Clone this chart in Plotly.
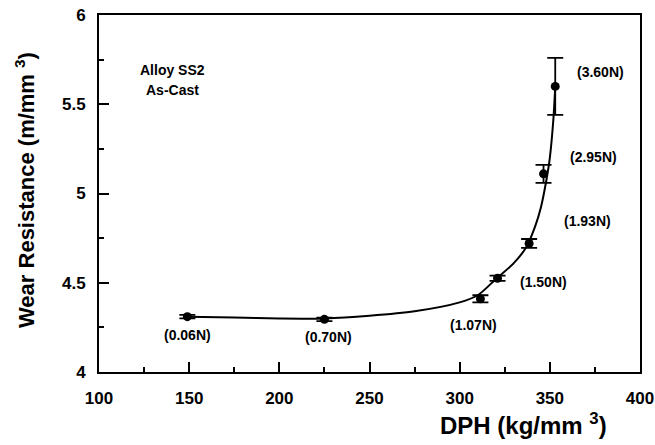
import plotly.graph_objects as go

# Data points
loads = ["(0.06N)", "(0.70N)", "(1.07N)", "(1.50N)", "(1.93N)", "(2.95N)", "(3.60N)"]
dph = [149, 225, 311.5, 321, 338.5, 346.5, 353]
wear = [4.31, 4.295, 4.41, 4.525, 4.72, 5.11, 5.6]
wear_err = [0.01, 0.01, 0.02, 0.015, 0.025, 0.05, 0.16]

# Fitted curve
fit_x = [149, 175, 200, 225, 250, 275, 300, 310, 320, 330, 337, 342, 345, 348, 350, 352, 353]
fit_y = [4.31, 4.305, 4.30, 4.30, 4.315, 4.34, 4.39, 4.43, 4.52, 4.61, 4.70, 4.82, 4.92, 5.07, 5.20, 5.42, 5.60]

# Label positions (data coords)
label_x = [149, 227, 307.5, 346.5, 371, 374, 378]
label_y = [4.205, 4.195, 4.265, 4.505, 4.845, 5.205, 5.68]

xticks = [100, 150, 200, 250, 300, 350, 400]
yticks = [4, 4.5, 5, 5.5, 6]

FONT = "Arial"

fig = go.Figure()
fig.add_trace(go.Scatter(x=fit_x, y=fit_y, mode="lines",
                         line=dict(color="black", width=2, shape="spline", smoothing=0.8),
                         hoverinfo="skip", showlegend=False))
fig.add_trace(go.Scatter(x=dph, y=wear, mode="markers",
                         marker=dict(color="black", size=9),
                         error_y=dict(type="data", array=wear_err, color="black",
                                      thickness=1.8, width=8),
                         showlegend=False))

for t, x, y in zip(loads, label_x, label_y):
    fig.add_annotation(x=x, y=y, text="<b>%s</b>" % t, showarrow=False,
                       font=dict(family=FONT, size=14, color="black"))

fig.add_annotation(x=141, y=5.69, text="<b>Alloy SS2</b>", showarrow=False,
                   font=dict(family=FONT, size=14, color="black"))
fig.add_annotation(x=141, y=5.58, text="<b>As-Cast</b>", showarrow=False,
                   font=dict(family=FONT, size=14, color="black"))

# Axis titles (positioned as in the reference)
fig.add_annotation(xref="paper", yref="paper", x=(523 - 99) / 541, y=(372 - 424) / 357,
                   xanchor="center", yanchor="middle",
                   text="<b>DPH (kg/mm <sup>3</sup>)</b>", showarrow=False,
                   font=dict(family=FONT, size=24, color="black"))
fig.add_annotation(xref="paper", yref="paper", x=(25 - 99) / 541, y=(372 - 190) / 357,
                   xanchor="center", yanchor="middle",
                   text="<b>Wear Resistance (m/mm <sup>3</sup>)</b>", showarrow=False, textangle=-90,
                   font=dict(family=FONT, size=22, color="black"))

axis_common = dict(showgrid=False, zeroline=False, showline=True, linecolor="black",
                   linewidth=2, mirror=True, ticks="inside", ticklen=10, tickwidth=1.5,
                   tickcolor="black", automargin=False,
                   tickfont=dict(family=FONT, size=17, color="black"))

fig.update_xaxes(range=[100, 400], tickvals=xticks, ticktext=["<b>%d</b>" % v for v in xticks],
                 minor=dict(ticks="inside", ticklen=5, dtick=25, tickcolor="black", tickwidth=1.5),
                 ticklabelstandoff=10,
                 **axis_common)
fig.update_yaxes(range=[4, 6], tickvals=yticks, ticktext=["<b>%g</b>" % v for v in yticks],
                 minor=dict(ticks="inside", ticklen=5, dtick=0.25, tickcolor="black", tickwidth=1.5),
                 ticklabelstandoff=8,
                 **axis_common)

fig.update_layout(width=655, height=445, margin=dict(l=99, r=15, t=15, b=73),
                  plot_bgcolor="white", paper_bgcolor="white")

fig.write_html("out.html")
